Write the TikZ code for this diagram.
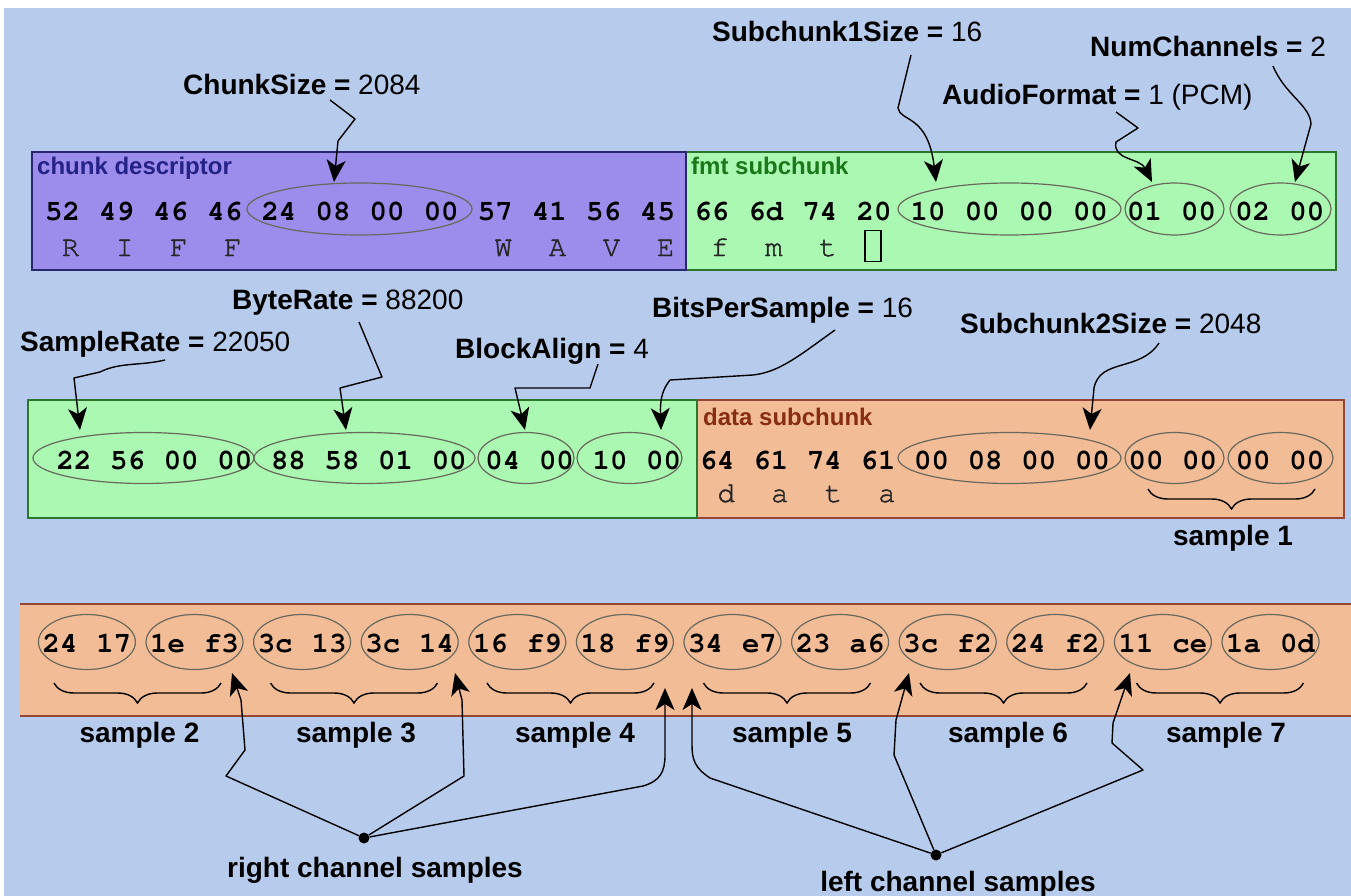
\documentclass[tikz,border=0pt]{standalone}
\usepackage{fontspec}
\newfontfamily\labfont{Liberation Sans}
\newfontfamily\hexmono{texgyrecursor}[Extension=.otf, UprightFont=*-regular, BoldFont=*-bold]
\newfontfamily\ascmono{texgyrecursor}[Extension=.otf, UprightFont=*-regular, FakeBold=1.5]
\usetikzlibrary{arrows.meta,shapes.geometric,decorations.pathreplacing,calc}
\definecolor{bgblue}{RGB}{183,203,236}
\definecolor{purp}{RGB}{156,140,235}
\definecolor{purpline}{RGB}{40,38,110}
\definecolor{grn}{RGB}{170,248,178}
\definecolor{grnline}{RGB}{46,118,46}
\definecolor{salm}{RGB}{242,188,150}
\definecolor{salmline}{RGB}{150,70,55}
\definecolor{ellgray}{RGB}{105,105,92}
\definecolor{txtpurp}{RGB}{36,34,135}
\definecolor{txtgrn}{RGB}{26,120,26}
\definecolor{txtred}{RGB}{135,45,18}
\tikzset{
 lbl/.style={font=\labfont\fontsize{28}{32}\selectfont, inner sep=0pt, anchor=base west},
 hexb/.style={font=\hexmono\bfseries\fontsize{29}{32}\selectfont, inner sep=0pt, anchor=base},
 asc/.style={font=\ascmono\fontsize{29}{32}\selectfont, text=black!85, inner sep=0pt, anchor=base},
 ell/.style={ellipse, draw=ellgray, line width=1.2pt, inner sep=0pt},
 arr/.style={line width=1.4pt, line join=round, -{Stealth[length=22pt,width=19pt,inset=6pt]}},
 brc/.style={decorate, decoration={brace, mirror, amplitude=20pt}, line width=1.4pt},
 smp/.style={font=\labfont\bfseries\fontsize{28}{32}\selectfont, inner sep=0pt, anchor=base},
 boxlbl/.style={font=\labfont\bfseries\fontsize{24}{28}\selectfont, inner sep=0pt, anchor=base west},
 chdot/.style={circle, fill=black, inner sep=0pt, minimum size=11pt},
}
\begin{document}
\begin{tikzpicture}[x=1pt,y=-1pt]
\useasboundingbox (0,0) rectangle (1351,896);
\fill[white] (0,0) rectangle (1351,896);
\fill[bgblue] (4,8) rectangle (1351,896);

% ---- row 1 boxes
\draw[fill=grn, draw=grnline, line width=2pt] (686,152) rectangle (1336,270);
\draw[fill=purp, draw=purpline, line width=2pt] (32,152) rectangle (686,270);
\node[boxlbl, text=txtpurp] (lcd) at (37,175) {chunk descriptor};
\node[boxlbl, text=txtgrn] (lfmt) at (691,175) {fmt subchunk};

% ---- row 2 boxes
\draw[fill=salm, draw=salmline, line width=2pt] (697,400) rectangle (1344,518);
\draw[fill=grn, draw=grnline, line width=2pt] (28,400) rectangle (697,518);
\node[boxlbl, text=txtred] (ldata) at (703,425) {data subchunk};

% ---- row 3 band
\fill[salm] (20,604) rectangle (1351,716);
\draw[salmline, line width=2.2pt] (20,604) -- (1351,604);
\draw[salmline, line width=2.2pt] (20,716) -- (1351,716);

% ---- ellipses row 1
\node[ell, minimum width=225pt, minimum height=52pt] (e1) at (359.5,209) {};
\node[ell, minimum width=223pt, minimum height=52pt] (e2) at (1009.5,209) {};
\node[ell, minimum width=99pt, minimum height=52pt] (e3) at (1174.5,209) {};
\node[ell, minimum width=101pt, minimum height=52pt] (e4) at (1280.5,209) {};
% ---- ellipses row 2
\node[ell, minimum width=221pt, minimum height=51pt] (f1) at (143.5,458) {};
\node[ell, minimum width=221pt, minimum height=51pt] (f2) at (364.5,458) {};
\node[ell, minimum width=96pt, minimum height=51pt] (f3) at (526,458) {};
\node[ell, minimum width=105pt, minimum height=51pt] (f4) at (629.5,458) {};
\node[ell, minimum width=223pt, minimum height=51pt] (f5) at (1009.5,458) {};
\node[ell, minimum width=99pt, minimum height=51pt] (f6) at (1174.5,458) {};
\node[ell, minimum width=105pt, minimum height=51pt] (f7) at (1280.5,458) {};
% ---- ellipses row 3
\foreach \j in {0,...,11}
  \node[ell, minimum width=97pt, minimum height=55pt] (p\j) at (86.9+107.6*\j,642) {};

% ---- hex row 1
\foreach \b [count=\k from 0] in {52,49,46,46,24,08,00,00,57,41,56,45,66,6d,74,20,10,00,00,00,01,00,02,00}
  \node[hexb] (ha\k) at (62.5+54.1*\k,220) {\b};
\foreach \c/\k in {R/0,I/1,F/2,F/3,W/8,A/9,V/10,E/11,f/12,m/13,t/14}
  \node[asc] (ca\k) at (70.5+54.1*\k,256) {\c};
\node[draw=black, line width=1.4pt, minimum width=16pt, minimum height=31pt, inner sep=0pt] (spc) at (873,246) {};

% ---- hex row 2
\foreach \b [count=\k from 0] in {22,56,00,00,88,58,01,00,04,00,10,00,64,61,74,61,00,08,00,00,00,00,00,00}
  \node[hexb] (hb\k) at (74+53.6*\k,469) {\b};
\foreach \c/\k in {d/12,a/13,t/14,a/15}
  \node[asc] (cb\k) at (83+53.6*\k,502) {\c};

% ---- hex row 3
\foreach \b [count=\k from 0] in {24,17,1e,f3,3c,13,3c,14,16,f9,18,f9,34,e7,23,a6,3c,f2,24,f2,11,ce,1a,0d}
  \node[hexb] (hc\k) at (60+53.8*\k,652) {\b};

% ---- braces
\draw[brc] (1148,489) -- (1315,489);
\foreach \i in {0,...,5}
  \draw[brc] (54+216.5*\i,683) -- (221+216.5*\i,683);

% ---- sample labels
\node[smp] (s1) at (1233,545) {sample 1};
\foreach \n/\x in {2/139.5,3/356,4/575,5/792,6/1008,7/1226}
  \node[smp] (s\n) at (\x,742) {sample \n};

% ---- field labels
\node[lbl] (lCS) at (183,95) {{\bfseries ChunkSize =} 2084};
\node[lbl] (lS1) at (712,42) {{\bfseries Subchunk1Size =} 16};
\node[lbl] (lNC) at (1090,57) {{\bfseries NumChannels =} 2};
\node[lbl] (lAF) at (942,105) {{\bfseries AudioFormat =} 1 (PCM)};
\node[lbl] (lBR) at (232,309) {{\bfseries ByteRate =} 88200};
\node[lbl] (lSR) at (20,351) {{\bfseries SampleRate =} 22050};
\node[lbl] (lBA) at (455,358) {{\bfseries BlockAlign =} 4};
\node[lbl] (lBP) at (652,317) {{\bfseries BitsPerSample =} 16};
\node[lbl] (lS2) at (960,333) {{\bfseries Subchunk2Size =} 2048};

\node[smp] (lright) at (375,877) {right channel samples};
\node[smp] (lleft) at (958,891) {left channel samples};

% ---- arrow ends
\coordinate (sCS) at (330,100);  \coordinate (tCS) at (334,182);
\coordinate (sS1) at (911,55);   \coordinate (tS1) at (936,182);
\coordinate (sAF) at (1116,112); \coordinate (tAF) at (1152,182);
\coordinate (sNC) at (1273,66);  \coordinate (tNC) at (1295,182);
\coordinate (sSR) at (165,360);  \coordinate (tSR) at (80,430);
\coordinate (sBR) at (359,322);  \coordinate (tBR) at (346,430);
\coordinate (sBA) at (598,364);  \coordinate (tBA) at (525,430);
\coordinate (sBP) at (835,330);  \coordinate (tBP) at (661,430);
\coordinate (sS2) at (1159,343); \coordinate (tS2) at (1090,430);
\coordinate (tR1) at (232,673);  \coordinate (tR2) at (455,673);
\coordinate (tR3) at (665,688);  \coordinate (tL1) at (692,688);
\coordinate (tL2) at (909,673);  \coordinate (tL3) at (1130,673);

% ---- top arrows
\draw[arr] (sCS) -- (355,119) -- (338,141) -- (tCS);
\draw[arr] (sS1) -- (898,108) .. controls (900,122) and (928,114) .. (tS1);
\draw[arr] (sAF) -- (1138,128) -- (1116,142) .. controls (1112,160) and (1140,158) .. (tAF);
\draw[arr] (sNC) .. controls (1285,95) and (1310,105) .. (1311,124) -- (tNC);
% ---- middle arrows
\draw[arr] (sSR) .. controls (140,366) and (120,362) .. (100,372) -- (74,378) -- (tSR);
\draw[arr] (sBR) -- (382,377) -- (340,388) -- (tBR);
\draw[arr] (sBA) -- (590,388) -- (515,388) -- (tBA);
\draw[arr] (sBP) .. controls (800,355) and (780,372) .. (753,375) -- (670,380) .. controls (662,390) and (660,400) .. (tBP);
\draw[arr] (sS2) .. controls (1140,372) and (1100,358) .. (1094,388) -- (tS2);

% ---- channel arrows
\node[chdot] (rdot) at (364,838) {};
\node[chdot] (ldot) at (936,855) {};
\draw[arr] (rdot) -- (226,776) -- (245,750) -- (241,700) -- (tR1);
\draw[arr] (rdot) -- (464,776) -- (462,700) -- (tR2);
\draw[arr] (rdot) -- (643,786) .. controls (660,781) and (665,772) .. (665,755) -- (tR3);
\draw[arr] (ldot) -- (710,778) .. controls (695,768) and (692,760) .. (692,745) -- (tL1);
\draw[arr] (ldot) -- (894,755) -- (896,720) -- (tL2);
\draw[arr] (ldot) -- (1143,770) -- (1112,743) -- (1113,723) -- (tL3);
\end{tikzpicture}
\end{document}
